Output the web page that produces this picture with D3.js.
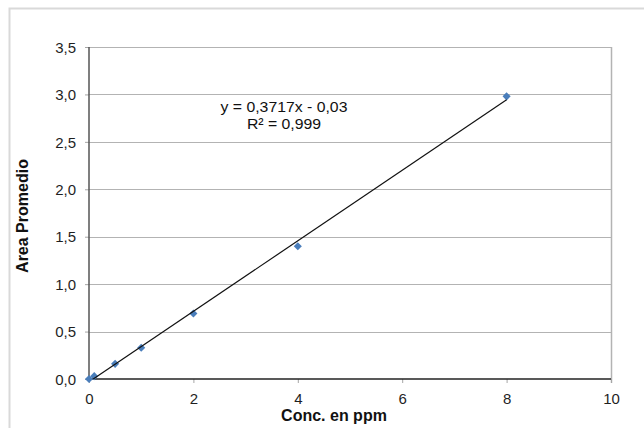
<!DOCTYPE html>
<html><head><meta charset="utf-8">
<script src="https://cdn.jsdelivr.net/npm/d3@7"></script>
<style>
html,body{margin:0;padding:0;background:#fff;}
svg{display:block;font-family:Arial,"Liberation Sans",sans-serif;}
</style></head>
<body>
<svg id="c" width="644" height="428"></svg>
<script>
const concX = [0, 0.1, 0.5, 1, 2, 4, 8];
const areaY = [0, 0.03, 0.16, 0.33, 0.69, 1.40, 2.98];
const xTicks = [0, 2, 4, 6, 8, 10];
const yTicks = [0, 0.5, 1, 1.5, 2, 2.5, 3, 3.5];
const slope = 0.3717, intercept = -0.03;
const eqLines = ["y = 0,3717x - 0,03", "R² = 0,999"];
const xTitle = "Conc. en ppm", yTitle = "Area Promedio";

const svg = d3.select("#c");
const L = 89, R = 611, T = 47, B = 379;
const x = d3.scaleLinear().domain([0, 10]).range([L, R]);
const y = d3.scaleLinear().domain([0, 3.5]).range([B, T]);
const fmt = d => d3.format(".1f")(d).replace(".", ",");

// outer frame
svg.append("path").attr("d", "M9.5,428 V8.5 H644").attr("fill", "none").attr("stroke", "#d9d9d9").attr("stroke-width", 2);

// gridlines
svg.append("g").selectAll("line").data(yTicks.slice(1)).join("line")
  .attr("x1", L).attr("x2", R).attr("y1", d => Math.round(y(d)) + 0.5).attr("y2", d => Math.round(y(d)) + 0.5)
  .attr("stroke", "#b3b3b3").attr("stroke-width", 1);
// right border
svg.append("line").attr("x1", R + 0.5).attr("x2", R + 0.5).attr("y1", T).attr("y2", B + 4)
  .attr("stroke", "#b3b3b3").attr("stroke-width", 1.5);

// axes
const yAxis = d3.axisLeft(y).tickValues(yTicks).tickFormat(fmt).tickSize(4).tickPadding(9);
const gy = svg.append("g").attr("transform", `translate(${L},0)`).call(yAxis);
const xAxis = d3.axisBottom(x).tickValues(xTicks).tickFormat(d3.format("d")).tickSize(4).tickPadding(10);
const gx = svg.append("g").attr("transform", `translate(0,${B})`).call(xAxis);
[gx, gy].forEach(g => {
  g.select(".domain").remove();
  g.selectAll(".tick line").attr("stroke", "#a6a6a6");
  g.selectAll(".tick text").attr("fill", "#1f1f1f").attr("font-size", 15)
   .attr("font-family", "Arial, 'Liberation Sans', sans-serif");
});
gy.selectAll(".tick text").attr("dy", "0.35em");
gx.selectAll(".tick text").attr("dy", "0.71em");
svg.append("line").attr("x1", L).attr("x2", L).attr("y1", T).attr("y2", B).attr("stroke", "#555").attr("stroke-width", 1.5);
svg.append("line").attr("x1", L).attr("x2", R).attr("y1", B).attr("y2", B).attr("stroke", "#222").attr("stroke-width", 1.5);

// clip
svg.append("clipPath").attr("id", "pa").append("rect").attr("x", L).attr("y", T).attr("width", R - L).attr("height", B - T);

// points
const diamond = d3.symbol().type(d3.symbolDiamond2).size(42);
svg.append("g").selectAll("path").data(concX.map((c, i) => [c, areaY[i]])).join("path")
  .attr("d", diamond).attr("transform", d => `translate(${x(d[0])},${y(d[1])})`)
  .attr("fill", "#4a7ebb");

// trendline
const tx = [d3.min(concX), d3.max(concX)];
svg.append("line").attr("clip-path", "url(#pa)")
  .attr("x1", x(tx[0])).attr("y1", y(slope * tx[0] + intercept))
  .attr("x2", x(tx[1])).attr("y2", y(slope * tx[1] + intercept))
  .attr("stroke", "#111").attr("stroke-width", 1.2);

// equation
svg.append("g").selectAll("text").data(eqLines).join("text")
  .attr("transform", (d, i) => `translate(284,${112 + i * 17}) scale(1.02,1)`)
  .attr("text-anchor", "middle")
  .attr("font-size", 15.5).attr("fill", "#111").text(d => d);

// titles
svg.append("text").attr("x", 334).attr("y", 421).attr("text-anchor", "middle")
  .attr("font-size", 16).attr("font-weight", "bold").attr("fill", "#111").text(xTitle);
svg.append("text").attr("transform", `translate(28,216) rotate(-90)`).attr("text-anchor", "middle")
  .attr("font-size", 16).attr("font-weight", "bold").attr("fill", "#111").text(yTitle);
</script>
</body></html>
